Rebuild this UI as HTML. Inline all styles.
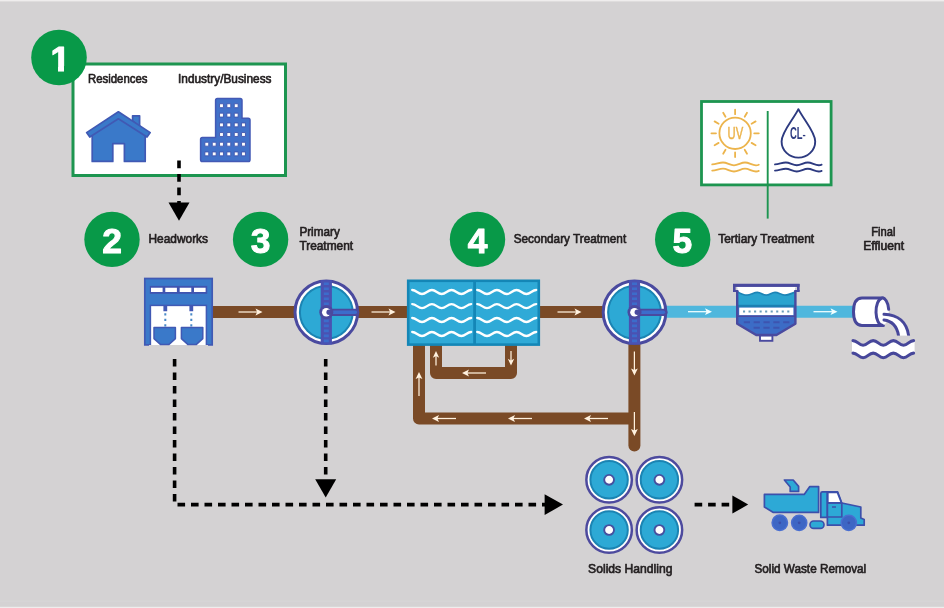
<!DOCTYPE html>
<html lang="en">
<head>
<meta charset="utf-8">
<title>Wastewater Treatment Process</title>
<style>
html,body{margin:0;padding:0;background:#d4d2d3;overflow:hidden}
body{width:944px;height:608px;font-family:"Liberation Sans",sans-serif}
svg{display:block;will-change:transform}
.lbl{font-family:"Liberation Sans",sans-serif;font-weight:400;font-size:12.3px;fill:#231f20;stroke:#231f20;stroke-width:.66px;stroke-linejoin:round}
.num{font-family:"Liberation Sans",sans-serif;font-weight:700;font-size:35.4px;fill:#fff;stroke:#fff;stroke-width:1px;stroke-linejoin:round;text-anchor:middle}
.dash{stroke:#000;stroke-width:3.6;fill:none;stroke-dasharray:7.6 5.9}
.pipe{stroke:#7a4a26;stroke-width:12;fill:none;stroke-linejoin:round}
.wpipe{stroke:#4fb7dd;stroke-width:12;fill:none}
.arw{stroke:currentColor;stroke-width:1.25;fill:none}
.arh{fill:currentColor}
</style>
</head>
<body>
<svg width="944" height="608" viewBox="0 0 944 608">
<defs>
  <g id="arrR"><line class="arw" x1="-12" y1="0" x2="8" y2="0"/><path class="arh" d="M12 0 L5 -3.4 L6.6 0 L5 3.4 Z"/></g>
  <g id="arrS"><line class="arw" x1="-7" y1="0" x2="4" y2="0"/><path class="arh" d="M7.4 0 L0.8 -3.2 L2.4 0 L0.8 3.2 Z"/></g>
  <g id="clar">
    <circle r="31.3" fill="#fff" stroke="#4a4a9f" stroke-width="3"/>
    <circle r="26.4" fill="#2da9d5" stroke="#1b84b3" stroke-width="2"/>
    <rect x="-5.6" y="-32.2" width="11.2" height="64.4" fill="#4a52b2"/>
    <path d="M-2.5 -28.6h5M-2.5 -23.6h5M-2.5 -18.6h5M-2.5 -13.6h5M-2.5 -8.6h5M-2.5 8.6h5M-2.5 13.6h5M-2.5 18.6h5M-2.5 23.6h5M-2.5 28.6h5" stroke="#3c6ccb" stroke-width="2.6" fill="none"/>
    <path d="M0 0 H29.4" stroke="#4a4a9f" stroke-width="7.2" stroke-linecap="round"/>
    <path d="M3 0 H29" stroke="#3c6ccb" stroke-width="3.4" stroke-linecap="round"/>
    <circle r="7" fill="#4a4a9f"/>
    <circle r="4.3" fill="#fff"/>
    <circle cx="2.8" r="2.7" fill="#4a4a9f"/>
  </g>
  <g id="disc">
    <circle r="22.75" fill="#fff" stroke="#4d4a9e" stroke-width="2.5"/>
    <circle r="18.7" fill="#2da9d5" stroke="#1b84b3" stroke-width="2"/>
    <circle r="4.9" fill="#fff" stroke="#46509f" stroke-width="1.9"/>
  </g>
  <path id="wv" d="M0.0 -2.0 C4.1 -2.0 5.7 2.0 9.8 2.0 C14.0 2.0 15.5 -2.0 19.7 -2.0 C23.8 -2.0 25.4 2.0 29.5 2.0 C33.6 2.0 35.2 -2.0 39.3 -2.0 C43.5 -2.0 45.0 2.0 49.2 2.0 C53.3 2.0 54.9 -2.0 59.0 -2.0" fill="none" stroke="#fff" stroke-width="2.3" stroke-linecap="round"/>
</defs>

<!-- background -->
<rect width="944" height="608" fill="#d4d2d3"/>
<rect width="944" height="1.4" fill="#efeded"/>
<rect y="606.8" width="944" height="1.2" fill="#efeded"/>
<rect y="600.6" width="944" height="1" fill="#d8d6d7"/>

<!-- Step 1 source box -->
<rect x="73" y="64" width="212.5" height="111.5" fill="#fff" stroke="#1d9550" stroke-width="3"/>
<circle cx="59" cy="57.5" r="27.8" fill="#089948"/>
<text class="num" x="60.4" y="70.8">1</text>
<path d="M49 66h9v7h-9z M64 66h8v7h-8z" fill="#089948"/>
<text class="lbl" x="88" y="83" textLength="59.5" lengthAdjust="spacingAndGlyphs">Residences</text>
<text class="lbl" x="178" y="83" textLength="93.5" lengthAdjust="spacingAndGlyphs">Industry/Business</text>
<!-- house -->
<g fill="#3a79c9" stroke="#4059b4" stroke-width="1.7" stroke-linejoin="round">
  <path d="M132.6 121 V115.8 H139.6 V127 Z"/>
  <path d="M92.2 133 V161.4 H112.8 V143.6 H124.4 V161.4 H145.2 V133 L118.4 116 Z"/>
  <path d="M118.4 111.8 L86.6 132.6 L89.8 137 L118.4 118.8 L147 137 L150.2 132.6 Z"/>
</g>
<!-- office building -->
<g fill="#4171c9" stroke="#4359b5" stroke-width="1.5" stroke-linejoin="round">
  <path d="M215.6 137.6 V100.4 Q215.6 98.6 217.4 98.6 H240.2 Q242 98.6 242 100.4 V118.2 H248.2 Q250 118.2 250 120 V159.8 Q250 161.6 248.2 161.6 H202.4 Q200.6 161.6 200.6 159.8 V139.4 Q200.6 137.6 202.4 137.6 Z"/>
</g>
<g fill="#fff" stroke="#3f55ae" stroke-width=".9" transform="translate(-.45 -.45)">
  <path d="M220 104.2h3.9v3.9h-3.9zM227.3 104.2h3.9v3.9h-3.9zM234.7 104.2h3.9v3.9h-3.9z"/>
  <path d="M220 113.6h3.9v3.9h-3.9zM227.3 113.6h3.9v3.9h-3.9zM234.7 113.6h3.9v3.9h-3.9z"/>
  <path d="M220 123.4h3.9v3.9h-3.9zM227.3 123.4h3.9v3.9h-3.9zM234.7 123.4h3.9v3.9h-3.9zM242 123.4h3.9v3.9h-3.9z"/>
  <path d="M220 133h3.9v3.9h-3.9zM227.3 133h3.9v3.9h-3.9zM234.7 133h3.9v3.9h-3.9zM242 133h3.9v3.9h-3.9z"/>
  <path d="M205.3 142.7h3.9v3.9h-3.9zM212.7 142.7h3.9v3.9h-3.9zM220 142.7h3.9v3.9h-3.9zM227.3 142.7h3.9v3.9h-3.9zM234.7 142.7h3.9v3.9h-3.9zM242 142.7h3.9v3.9h-3.9z"/>
  <path d="M205.3 152.4h3.9v3.9h-3.9zM212.7 152.4h3.9v3.9h-3.9zM220 152.4h3.9v3.9h-3.9zM227.3 152.4h3.9v3.9h-3.9zM234.7 152.4h3.9v3.9h-3.9zM242 152.4h3.9v3.9h-3.9z"/>
</g>
<!-- Step circles and labels -->
<circle cx="112" cy="239.4" r="27.7" fill="#089948"/>
<text class="num" x="112" y="252.9">2</text>
<circle cx="260.6" cy="239.4" r="27.7" fill="#089948"/>
<text class="num" x="260.6" y="252.9">3</text>
<circle cx="477.5" cy="239.4" r="27.7" fill="#089948"/>
<text class="num" x="477.5" y="252.9">4</text>
<circle cx="682.7" cy="239.4" r="27.7" fill="#089948"/>
<text class="num" x="682.3" y="252.9">5</text>
<text class="lbl" x="148.5" y="243" textLength="59.5" lengthAdjust="spacingAndGlyphs">Headworks</text>
<text class="lbl" x="299.4" y="235.7" textLength="40.4" lengthAdjust="spacingAndGlyphs">Primary</text>
<text class="lbl" x="299.4" y="249.8" textLength="53.7" lengthAdjust="spacingAndGlyphs">Treatment</text>
<text class="lbl" x="513.7" y="243" textLength="112.5" lengthAdjust="spacingAndGlyphs">Secondary Treatment</text>
<text class="lbl" x="718.2" y="243" textLength="96" lengthAdjust="spacingAndGlyphs">Tertiary Treatment</text>
<text class="lbl" x="871.2" y="235.7" textLength="24.2" lengthAdjust="spacingAndGlyphs">Final</text>
<text class="lbl" x="863.2" y="249.8" textLength="40.9" lengthAdjust="spacingAndGlyphs">Effluent</text>
<text class="lbl" x="588.1" y="573.1" textLength="84.3" lengthAdjust="spacingAndGlyphs">Solids Handling</text>
<text class="lbl" x="754.5" y="573.1" textLength="111.7" lengthAdjust="spacingAndGlyphs">Solid Waste Removal</text>
<!-- Pipes -->
<path class="pipe" d="M210 312 H636"/>
<path class="wpipe" d="M660 311.7 H856"/>
<path class="pipe" d="M419 340 V418.5 H634.4"/>
<path class="pipe" d="M436 340 V373 H511 V340"/>
<path class="pipe" d="M634.4 340 V445.4" stroke-linecap="round"/>
<!-- flow arrows -->
<g color="#fff1de">
  <use href="#arrR" transform="translate(250.5 312)"/>
  <use href="#arrR" transform="translate(383.5 312)"/>
  <use href="#arrR" transform="translate(569.5 312)"/>
  <use href="#arrR" transform="translate(700 311.7)" color="#f2ffff"/>
  <use href="#arrR" transform="translate(825.5 311.7)" color="#f2ffff"/>
  <use href="#arrR" transform="translate(444 418.5) rotate(180)"/>
  <use href="#arrR" transform="translate(520 418.5) rotate(180)"/>
  <use href="#arrR" transform="translate(596 418.5) rotate(180)"/>
  <use href="#arrR" transform="translate(474 373) rotate(180)"/>
  <use href="#arrR" transform="translate(419 384) rotate(-90)"/>
  <use href="#arrS" transform="translate(436 358.5) rotate(-90)"/>
  <use href="#arrS" transform="translate(511 358) rotate(90)"/>
  <use href="#arrR" transform="translate(634.4 363.5) rotate(90)"/>
  <use href="#arrR" transform="translate(634.4 424) rotate(90)"/>
</g>
<!-- Headworks -->
<g>
  <rect x="144.8" y="278.5" width="67.4" height="66.4" fill="#3a79c9" stroke="#4059b4" stroke-width="1.7"/>
  <rect x="149.8" y="285.9" width="57.4" height="7.9" fill="#4054b0"/>
  <path d="M151 287.8h11.6v4.2H151zM165.3 287.8h11.6v4.2h-11.6zM179.7 287.8h11.6v4.2h-11.6zM194 287.8h11.6v4.2H194z" fill="#fff"/>
  <rect x="150.4" y="305.4" width="56" height="40.4" fill="#fff" stroke="#4059b4" stroke-width="1.5"/>
  <rect x="149" y="345" width="59" height="3" fill="#d4d2d3"/>
  <path d="M165.3 305.6 V311.2 M191.3 305.6 V311.2" stroke="#4358b4" stroke-width="3.8" fill="none"/>
  <path d="M165.3 313.2 V327 M191.3 313.2 V327" stroke="#4a8ac8" stroke-width="2" stroke-dasharray="2.2 3.3" fill="none"/>
  <path d="M154 327.6 H175.4 V338.6 L169 344.4 H160.4 L154 338.6 Z M181.4 327.6 H202.8 V338.6 L196.4 344.4 H187.8 L181.4 338.6 Z" fill="#3a79c9" stroke="#4059b4" stroke-width="1.5" stroke-linejoin="round"/>
</g>
<!-- Primary clarifier -->
<use href="#clar" transform="translate(326.3 312.3)"/>
<!-- Aeration tank -->
<g>
  <rect x="408.2" y="280.8" width="130.6" height="63.8" fill="#2faad7" stroke="#1486b6" stroke-width="2.6"/>
  <path d="M474.6 280 V345" stroke="#1486b6" stroke-width="2.8"/>
  <use href="#wv" transform="translate(412.2 292)"/>
  <use href="#wv" transform="translate(412.2 306.1)"/>
  <use href="#wv" transform="translate(412.2 320)"/>
  <use href="#wv" transform="translate(412.2 334)"/>
  <use href="#wv" transform="translate(477.2 292)"/>
  <use href="#wv" transform="translate(477.2 306.1)"/>
  <use href="#wv" transform="translate(477.2 320)"/>
  <use href="#wv" transform="translate(477.2 334)"/>
</g>
<!-- Secondary clarifier -->
<use href="#clar" transform="translate(634.5 312.3)"/>
<!-- Tertiary filter -->
<g>
  <path d="M737.2 288 H795.4 V323.8 L776.4 335 H756.2 L737.2 323.8 Z" fill="#3c6cc6"/>
  <rect x="737.2" y="290" width="58.2" height="17" fill="#2ba3cf"/>
  <path d="M737.2 286.4 H795.4 V292 C791.6 293.2 788.6 295.2 785 295.2 C781.4 295.2 778.6 292.4 775 292.4 C771.4 292.4 769.8 295.2 766.2 295.2 C762.6 295.2 761 292.4 757.4 292.4 C753.8 292.4 750.6 295.2 747 295.2 C743.4 295.2 740.4 293.6 737.2 291.6 Z" fill="#fff"/>
  <path d="M795.4 292 C791.6 293.2 788.6 295.2 785 295.2 C781.4 295.2 778.6 292.4 775 292.4 C771.4 292.4 769.8 295.2 766.2 295.2 C762.6 295.2 761 292.4 757.4 292.4 C753.8 292.4 750.6 295.2 747 295.2 C743.4 295.2 740.4 293.6 737.2 291.6" fill="none" stroke="#1d84b6" stroke-width="1.7"/>
  <rect x="737.2" y="304.8" width="58.2" height="2.6" fill="#1d7fb2"/>
  <rect x="739.2" y="307.6" width="54.2" height="7.6" fill="#fff"/>
  <path d="M743 311.5 H790" stroke="#6a9ebb" stroke-width="2.1" stroke-dasharray="2.1 3.43" fill="none"/>
  <path d="M737.2 316.2 H795.4" stroke="#4a4a9f" stroke-width="1.6" fill="none"/>
  <path d="M743.8 322.3 H789.4" stroke="#3d54b0" stroke-width="1.9" stroke-dasharray="6.2 3.65" fill="none"/>
  <path d="M753.6 327.8 H780" stroke="#3d54b0" stroke-width="1.9" stroke-dasharray="6.2 3.65" fill="none"/>
  <path d="M737.2 291 V323.8 L756.2 335 H776.4 L795.4 323.8 V291" fill="none" stroke="#4a4a9f" stroke-width="2.4" stroke-linejoin="round"/>
  <path d="M734.3 291.6 V285.4 H798.3 V291.6" fill="none" stroke="#4a4a9f" stroke-width="2.6" stroke-linejoin="miter"/>
  <path d="M733 285.2 H799.6" stroke="#4a4a9f" stroke-width="3" fill="none"/>
  <path d="M733 291 H738.4 M794.2 291 H799.6" stroke="#4a4a9f" stroke-width="1.8" fill="none"/>
  <rect x="760" y="335.6" width="12.4" height="5.2" fill="#fff" stroke="#4a4a9f" stroke-width="1.9"/>
</g>
<!-- Outfall pipe -->
<g fill="#fff" stroke="#47479a" stroke-width="3" stroke-linejoin="round" stroke-linecap="round">
  <path d="M852.0 340.6 C856.7 340.6 857.7 345.2 862.4 345.2 C867.1 345.2 868.2 340.6 872.9 340.6 C877.6 340.6 878.6 345.2 883.3 345.2 C888.0 345.2 889.0 340.6 893.7 340.6 C898.4 340.6 899.5 345.2 904.2 345.2 C908.9 345.2 909.9 340.6 914.6 340.6 V353.1 C909.9 353.1 908.9 357.7 904.2 357.7 C899.5 357.7 898.4 353.1 893.7 353.1 C889.0 353.1 888.0 357.7 883.3 357.7 C878.6 357.7 877.6 353.1 872.9 353.1 C868.2 353.1 867.1 357.7 862.4 357.7 C857.7 357.7 856.7 353.1 852.0 353.1 Z" stroke="none"/>
  <path d="M883.4 298 H862 Q853.5 298 853.5 311.7 Q853.5 325.4 862 325.4 H883.4"/>
  <ellipse cx="882.4" cy="311.7" rx="6.4" ry="13.6" stroke="none"/>
  <path d="M884 313 C899.6 313.4 908 322.4 910 336.2 H897.6 C896.4 327.4 892 321.8 884 320.8 Z" stroke="none"/>
  <path d="M888.7 309.3 A6.4 13.6 0 1 0 882.4 325.3" fill="none"/>
  <path d="M884 314.2 C898.4 314.6 906.8 322.6 908.6 335.4 M884 320 C892 321 897 326.6 898.5 335.4" fill="none" stroke-linecap="round"/>
  <path d="M896.6 336.4 H910.4" stroke="#d4d2d3" stroke-width="1.6" stroke-linecap="butt" fill="none"/>
  <path d="M853.0 340.6 C857.5 340.6 858.6 345.2 863.1 345.2 C867.6 345.2 868.7 340.6 873.2 340.6 C877.7 340.6 878.8 345.2 883.3 345.2 C887.8 345.2 888.9 340.6 893.4 340.6 C897.9 340.6 899.0 345.2 903.5 345.2 C908.0 345.2 909.1 340.6 913.6 340.6" fill="none" stroke-width="3.1"/>
  <path d="M853.0 353.1 C857.5 353.1 858.6 357.7 863.1 357.7 C867.6 357.7 868.7 353.1 873.2 353.1 C877.7 353.1 878.8 357.7 883.3 357.7 C887.8 357.7 888.9 353.1 893.4 353.1 C897.9 353.1 899.0 357.7 903.5 357.7 C908.0 357.7 909.1 353.1 913.6 353.1" fill="none" stroke-width="3.1"/>
</g>
<!-- Solids handling -->
<use href="#disc" transform="translate(609.1 479.8)"/>
<use href="#disc" transform="translate(659.4 479.8)"/>
<use href="#disc" transform="translate(609.1 530)"/>
<use href="#disc" transform="translate(659.4 530)"/>
<!-- Truck -->
<g stroke="#3c50ab" stroke-width="1.7" stroke-linejoin="round" fill="#2da9d6">
  <path d="M784.4 480 H793.2 L798.6 486.4 V491.4 H790.2 V487 Z"/>
  <path d="M764.4 494.4 H804.2 L809.8 486.6 H818.6 V512.4 H773.4 L764.4 507 Z"/>
  <path d="M822.4 491.8 H827.4 V517.4 H820.8 V493.4 Q820.8 491.8 822.4 491.8 Z"/>
  <path d="M827.4 491.8 H837.6 L841.8 503 L860.8 507 V518 L864.2 519.6 V525.2 H827.4 Z"/>
  <path d="M827.8 492.4 H837.4 L841.4 502.8 H827.8 Z" fill="#fff"/>
  <path d="M827.4 503 H841.8 V517 H827.4 M832 507 H836" fill="none"/>
  <rect x="810" y="521" width="14" height="7.4" rx="3.7"/>
  <g fill="#3d66c4" stroke="#4a6fd0" stroke-width="1.5">
    <circle cx="779.8" cy="522.8" r="7.7"/>
    <circle cx="799.2" cy="522.8" r="7.6"/>
    <circle cx="848.8" cy="522.8" r="7.6"/>
  </g>
  <g fill="#3a4fab" stroke="none">
    <circle cx="779.8" cy="522.8" r="1.4"/>
    <circle cx="799.2" cy="522.8" r="1.4"/>
    <circle cx="848.8" cy="522.8" r="1.4"/>
  </g>
</g>
<!-- Tertiary options box -->
<g>
  <rect x="701.5" y="101.5" width="129.6" height="83.4" fill="#fff" stroke="#1d9550" stroke-width="2.8"/>
  <path d="M767.7 111 V218.6" stroke="#1d9550" stroke-width="1.9" fill="none"/>
  <g fill="none" stroke="#ecb44c" stroke-width="1.8" stroke-linecap="round">
    <circle cx="735.1" cy="133.3" r="15.7"/>
    <path d="M735.1 109.6 v4.6 M735.1 152.4 v4.6 M711.4 133.3 h4.6 M754.2 133.3 h4.6 M723.2 112.8 l2.3 4 M744.7 149.8 l2.3 4 M747 112.8 l-2.3 4 M725.5 149.8 l-2.3 4 M714.6 121.4 l4 2.3 M751.6 142.9 l4 2.3 M755.6 121.4 l-4 2.3 M718.6 142.9 l-4 2.3"/>
    <path d="M712.2 164.4 c4 0 6.8 -1.9 10.8 -1.9 s7 2.8 11 2.8 s7 -2.8 11 -2.8 s7 2.8 11 2.8 q1.6 0 2.8 -0.6 M712.2 170.6 c4 0 6.8 -1.9 10.8 -1.9 s7 2.8 11 2.8 s7 -2.8 11 -2.8 s7 2.8 11 2.8 q1.6 0 2.8 -0.6"/>
  </g>
  <text x="727.6" y="138.9" font-family="'Liberation Sans',sans-serif" font-size="16.4" fill="#ecb44c" stroke="#ecb44c" stroke-width=".5" textLength="15.6" lengthAdjust="spacingAndGlyphs">UV</text>
  <g fill="none" stroke="#2d3a80" stroke-width="1.9" stroke-linecap="round" stroke-linejoin="round">
    <path d="M798.4 109.2 C 793 120 781.6 132 781.6 141.4 A 16.8 16.2 0 0 0 815.2 141.4 C 815.2 132 803.8 120 798.4 109.2 Z"/>
    <path d="M775 164.4 c4 0 6.8 -1.9 10.8 -1.9 s7 2.8 11 2.8 s7 -2.8 11 -2.8 s7 2.8 11 2.8 q1.6 0 2.8 -0.6 M775 170.6 c4 0 6.8 -1.9 10.8 -1.9 s7 2.8 11 2.8 s7 -2.8 11 -2.8 s7 2.8 11 2.8 q1.6 0 2.8 -0.6"/>
  </g>
  <text x="790" y="138.9" font-family="'Liberation Sans',sans-serif" font-weight="700" font-size="16" fill="#2d3a80" textLength="12.6" lengthAdjust="spacingAndGlyphs">CL</text>
  <text x="802.6" y="137.6" font-family="'Liberation Sans',sans-serif" font-weight="700" font-size="11" fill="#2d3a80" textLength="3.2" lengthAdjust="spacingAndGlyphs">-</text>
</g>
<!-- Dashed flow lines -->
<path class="dash" d="M179 160.6 V203"/>
<path d="M168.5 202.6 H189.5 L179 220.8 Z" fill="#000"/>
<path class="dash" d="M174.6 359 V504.6 H545"/>
<path d="M544.6 494.2 V515 L563 504.6 Z" fill="#000"/>
<path class="dash" d="M325.7 359 V480"/>
<path d="M315.2 479.2 H336.2 L325.7 497.4 Z" fill="#000"/>
<path class="dash" d="M694.6 504.6 H733"/>
<path d="M732.4 495.6 V513.6 L748.2 504.6 Z" fill="#000"/>
</svg>
</body>
</html>
